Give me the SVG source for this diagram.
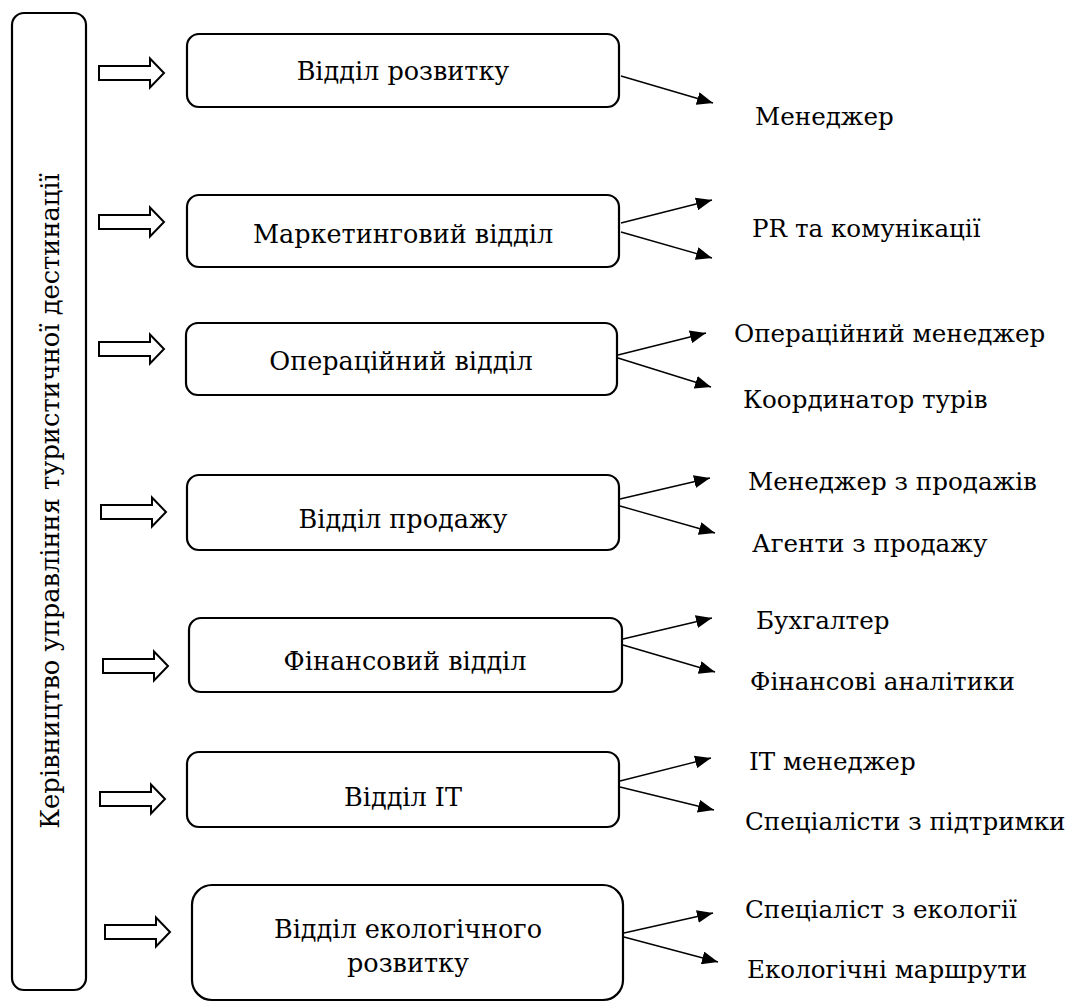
<svg xmlns="http://www.w3.org/2000/svg" width="1079" height="1003" viewBox="0 0 1079 1003">
<style>
.box{fill:#fff;stroke:#000;stroke-width:2.2}
.blk{fill:#fff;stroke:#000;stroke-width:2}
.c{text-anchor:middle;font-size:25.5px}
.lb{font-size:24.6px}
.ln{stroke:#000;stroke-width:1.4;fill:none;marker-end:url(#ah)}
</style>
<defs>
<marker id="ah" markerUnits="userSpaceOnUse" markerWidth="17" markerHeight="13" refX="16" refY="6.5" orient="auto">
<path d="M0,0 L16,6.5 L0,13 z" fill="#000"/>
</marker>
<path id="ba" class="blk" d="M0,-7 H51 V-14.5 L65,0 L51,14.5 V7 H0 Z"/>
</defs>
<rect width="1079" height="1003" fill="#fff"/>
<g font-family="DejaVu Serif, serif" font-size="25" fill="#000">
<g id="head">
<rect class="box" x="12" y="13" width="74" height="977" rx="12"/>
<text font-size="25.7" text-anchor="middle" transform="translate(59,501) rotate(-90)">Керівництво управління туристичної дестинації</text>
</g>
<g id="block-arrows">
<use href="#ba" x="99" y="73"/>
<use href="#ba" x="99" y="222"/>
<use href="#ba" x="99" y="349"/>
<use href="#ba" x="101" y="512"/>
<use href="#ba" x="103" y="666"/>
<use href="#ba" x="100" y="799"/>
<use href="#ba" x="105" y="932"/>
</g>
<g id="n1"><rect class="box" x="187" y="34" width="432" height="73" rx="12"/><text class="c" x="403" y="80">Відділ розвитку</text></g>
<g id="n2"><rect class="box" x="187" y="195" width="432" height="72" rx="12"/><text class="c" x="403" y="243">Маркетинговий відділ</text></g>
<g id="n3"><rect class="box" x="186" y="323" width="431" height="72" rx="12"/><text class="c" x="401" y="370">Операційний відділ</text></g>
<g id="n4"><rect class="box" x="187" y="475" width="432" height="75" rx="12"/><text class="c" x="403" y="528">Відділ продажу</text></g>
<g id="n5"><rect class="box" x="189" y="618" width="433" height="74" rx="12"/><text class="c" x="405" y="670">Фінансовий відділ</text></g>
<g id="n6"><rect class="box" x="187" y="752" width="432" height="75" rx="12"/><text class="c" x="403" y="806">Відділ IT</text></g>
<g id="n7"><rect class="box" x="192" y="885" width="431" height="115" rx="20"/><text class="c" x="408" y="938">Відділ екологічного</text><text class="c" x="408" y="972">розвитку</text></g>
<g id="connectors">
<line class="ln" x1="621" y1="76" x2="713" y2="103"/>
<line class="ln" x1="621" y1="223" x2="712" y2="200"/>
<line class="ln" x1="621" y1="232" x2="712" y2="258"/>
<line class="ln" x1="618" y1="355" x2="706" y2="333"/>
<line class="ln" x1="618" y1="358" x2="711" y2="387"/>
<line class="ln" x1="620" y1="499" x2="710" y2="478"/>
<line class="ln" x1="620" y1="506" x2="715" y2="533"/>
<line class="ln" x1="623" y1="639" x2="712" y2="618"/>
<line class="ln" x1="623" y1="645" x2="715" y2="672"/>
<line class="ln" x1="620" y1="781" x2="711" y2="758"/>
<line class="ln" x1="620" y1="787" x2="714" y2="810"/>
<line class="ln" x1="624" y1="933" x2="713" y2="913"/>
<line class="ln" x1="624" y1="937" x2="718" y2="962"/>
</g>
<g id="labels" class="lb">
<text x="755" y="125">Менеджер</text>
<text x="752" y="237">PR та комунікації</text>
<text x="734" y="342">Операційний менеджер</text>
<text x="743" y="408">Координатор турів</text>
<text x="748" y="490">Менеджер з продажів</text>
<text x="752" y="552">Агенти з продажу</text>
<text x="756" y="629">Бухгалтер</text>
<text x="750" y="690">Фінансові аналітики</text>
<text x="749" y="770">IT менеджер</text>
<text x="745" y="830">Спеціалісти з підтримки</text>
<text x="745" y="918">Спеціаліст з екології</text>
<text x="747" y="978">Екологічні маршрути</text>
</g>
</g>
</svg>
